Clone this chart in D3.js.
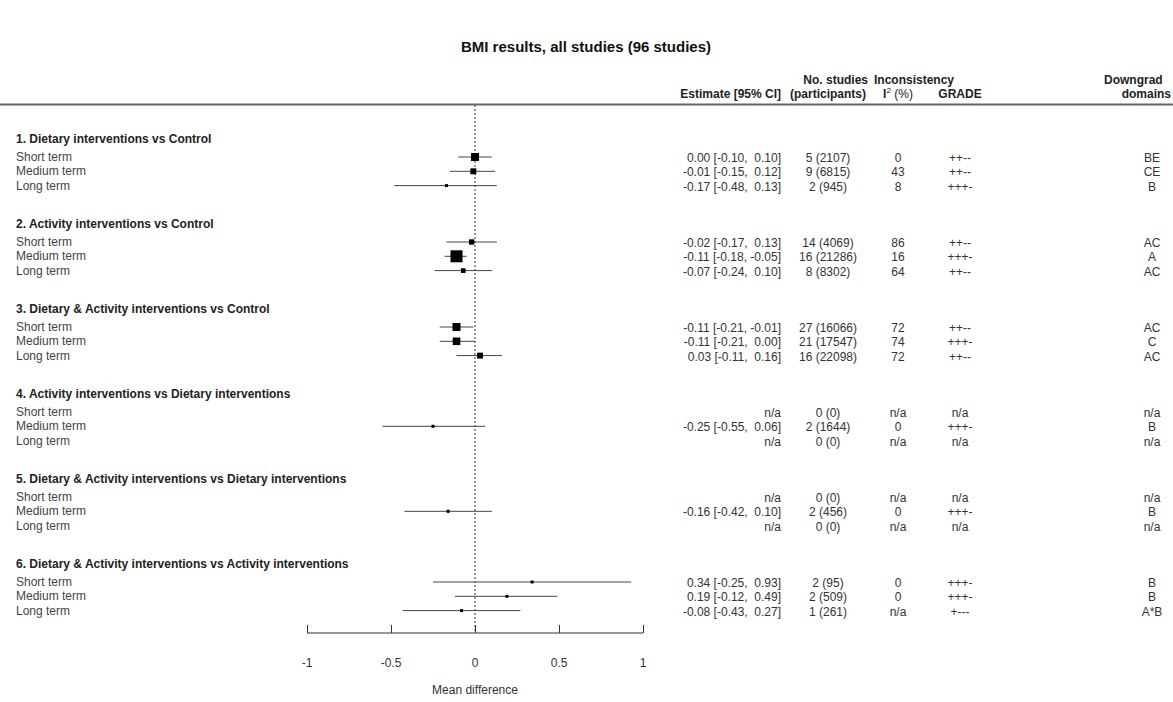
<!DOCTYPE html><html><head><meta charset="utf-8"><script src="https://cdn.jsdelivr.net/npm/d3@7"></script>
<style>body{margin:0;background:#fff}text{font-family:"Liberation Sans",Arial,sans-serif}</style></head><body>
<svg id="c" width="1173" height="702"></svg>
<script>
const groups=["1. Dietary interventions vs Control","2. Activity interventions vs Control","3. Dietary & Activity interventions vs Control","4. Activity interventions vs Dietary interventions","5. Dietary & Activity interventions vs Dietary interventions","6. Dietary & Activity interventions vs Activity interventions"];
const terms=["Short term","Medium term","Long term"];
const est=[0.00,-0.01,-0.17,-0.02,-0.11,-0.07,-0.11,-0.11,0.03,null,-0.25,null,null,-0.16,null,0.34,0.19,-0.08];
const lo=[-0.10,-0.15,-0.48,-0.17,-0.18,-0.24,-0.21,-0.21,-0.11,null,-0.55,null,null,-0.42,null,-0.25,-0.12,-0.43];
const hi=[0.10,0.12,0.13,0.13,-0.05,0.10,-0.01,0.00,0.16,null,0.06,null,null,0.10,null,0.93,0.49,0.27];
const studies=["5 (2107)","9 (6815)","2 (945)","14 (4069)","16 (21286)","8 (8302)","27 (16066)","21 (17547)","16 (22098)","0 (0)","2 (1644)","0 (0)","0 (0)","2 (456)","0 (0)","2 (95)","2 (509)","1 (261)"];
const i2=["0","43","8","86","16","64","72","74","72","n/a","0","n/a","n/a","0","n/a","0","0","n/a"];
const grade=["++--","++--","+++-","++--","+++-","++--","++--","+++-","++--","n/a","+++-","n/a","n/a","+++-","n/a","+++-","+++-","+---"];
const domains=["BE","CE","B","AC","A","AC","AC","C","AC","n/a","B","n/a","n/a","B","n/a","B","B","A*B"];
const xticks=[-1,-0.5,0,0.5,1];

const svg=d3.select("#c");
const x=d3.scaleLinear().domain([-1,1]).range([307,643]);
const gy=i=>139+i*85, ry=(g,t)=>157+g*85+t*14.3;
const fmt=v=>(v<0?"-":"")+Math.abs(v).toFixed(2);
const fmtc=v=>(v<0?"-":" ")+Math.abs(v).toFixed(2);
svg.append("text").attr("x",586).attr("y",52).attr("text-anchor","middle").attr("font-size",15).attr("font-weight","bold").attr("fill","#111").text("BMI results, all studies (96 studies)");
svg.append("line").attr("x1",0).attr("x2",1173).attr("y1",104.5).attr("y2",104.5).attr("stroke","#666").attr("stroke-width",2);
const H=(t,xx,y,a)=>svg.append("text").attr("x",xx).attr("y",y).attr("text-anchor",a).attr("font-size",12).attr("font-weight","bold").attr("fill","#222").text(t);
H("Estimate [95% CI]",781,98,"end");H("No. studies",868,84,"end");H("(participants)",828,98,"middle");
H("Inconsistency",874,84,"start");
const ti=svg.append("text").attr("x",898).attr("y",98).attr("text-anchor","middle").attr("font-size",12).attr("fill","#222");
ti.append("tspan").attr("font-weight","bold").text("I");ti.append("tspan").attr("font-size",8).attr("dy",-5).text("2");ti.append("tspan").attr("dy",5).text(" (%)");
H("GRADE",960,98,"middle");H("Downgrad",1104,84,"start");H("domains",1171,98,"end");
svg.append("line").attr("x1",x(0)).attr("x2",x(0)).attr("y1",105).attr("y2",633).attr("stroke","#333").attr("stroke-dasharray","2,2");
groups.forEach((g,gi)=>{
 svg.append("text").attr("x",16).attr("y",gy(gi)+4).attr("font-size",12).attr("font-weight","bold").attr("fill","#222").text(g);
 terms.forEach((t,ti)=>{
  const i=gi*3+ti,y=ry(gi,ti);
  svg.append("text").attr("x",16).attr("y",y+4).attr("font-size",12).attr("fill","#444").text(t);
  const T=(s,xx,a)=>svg.append("text").attr("x",xx).attr("y",y+5).attr("text-anchor",a).attr("font-size",12).attr("fill","#333").style("white-space","pre").text(s);
  if(est[i]==null){T("n/a",781,"end");}
  else{
   T(`${fmt(est[i])} [${fmt(lo[i])}, ${fmtc(hi[i])}]`,781,"end");
   svg.append("line").attr("x1",x(lo[i])).attr("x2",x(hi[i])).attr("y1",y).attr("y2",y).attr("stroke","#444");
   const s=Math.max(3,Math.min(12,1.6/(hi[i]-lo[i])));
   svg.append("rect").attr("x",x(est[i])-s/2).attr("y",y-s/2).attr("width",s).attr("height",s).attr("fill","#000");
  }
  T(studies[i],828,"middle");T(i2[i],898,"middle");T(grade[i],960,"middle");T(domains[i],1152,"middle");
 });
});
const ax=svg.append("g").attr("transform","translate(0,633)").call(d3.axisTop(x).tickValues(xticks).tickSize(8).tickFormat(""));
ax.selectAll("line,path").attr("stroke","#333");ax.select(".domain").attr("d",`M${x(-1)},0H${x(1)}`);
xticks.forEach(v=>svg.append("text").attr("x",x(v)).attr("y",667).attr("text-anchor","middle").attr("font-size",12).attr("fill","#333").text(String(v)));
svg.append("text").attr("x",x(0)).attr("y",694).attr("text-anchor","middle").attr("font-size",12).attr("fill","#333").text("Mean difference");
</script></body></html>
